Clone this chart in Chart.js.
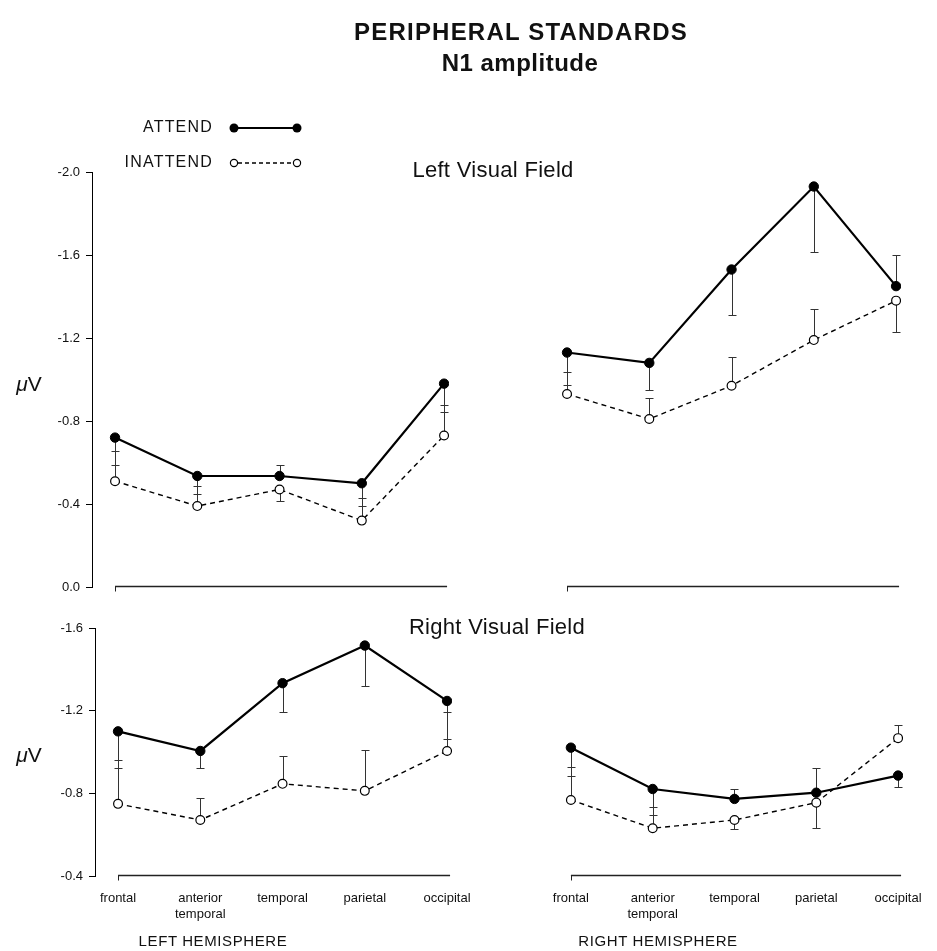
<!DOCTYPE html>
<html>
<head>
<meta charset="utf-8">
<script src="https://cdn.jsdelivr.net/npm/chart.js@4/dist/chart.umd.min.js"></script>
<style>
html,body{margin:0;padding:0;background:#fff;}
#wrap{position:relative;width:937px;height:951px;overflow:hidden;background:#fff;font-family:"Liberation Sans",Arial,Helvetica,sans-serif;color:#111;}
#wrap canvas{position:absolute;left:0;top:0;}
.t{position:absolute;white-space:nowrap;line-height:1;transform:translate(-50%,-50%);}
</style>
</head>
<body>
<div id="wrap">
  <canvas id="c1" width="937" height="951"></canvas>
  <canvas id="c2" width="937" height="951"></canvas>
  <canvas id="c3" width="937" height="951"></canvas>
  <canvas id="c4" width="937" height="951"></canvas>
  <div class="t" style="left:521px;top:32px;font-size:24px;font-weight:bold;letter-spacing:1.2px;">PERIPHERAL STANDARDS</div>
  <div class="t" style="left:520px;top:63px;font-size:24px;font-weight:bold;letter-spacing:0.5px;">N1 amplitude</div>
  <div class="t" style="left:493px;top:170px;font-size:22px;letter-spacing:0.3px;">Left Visual Field</div>
  <div class="t" style="left:497px;top:627px;font-size:22px;letter-spacing:0.3px;">Right Visual Field</div>
  <div class="t" style="left:29px;top:383px;font-size:21px;"><i>&mu;</i>V</div>
  <div class="t" style="left:29px;top:754px;font-size:21px;"><i>&mu;</i>V</div>
  <div class="t" style="left:213px;top:940px;font-size:15px;letter-spacing:0.6px;">LEFT HEMISPHERE</div>
  <div class="t" style="left:658px;top:940px;font-size:15px;letter-spacing:0.6px;">RIGHT HEMISPHERE</div>
</div>
<script>
// ---------- data ----------
const categories = ['frontal', ['anterior', 'temporal'], 'temporal', 'parietal', 'occipital'];
const seriesNames = ['ATTEND', 'INATTEND'];
const yTicksLVF = [-2.0, -1.6, -1.2, -0.8, -0.4, 0.0];
const yTicksRVF = [-1.6, -1.2, -0.8, -0.4];

// Left Visual Field - left hemisphere
const lvfLH_attend      = [-0.72, -0.535, -0.535, -0.50, -0.98];
const lvfLH_inattend    = [-0.51, -0.39, -0.47, -0.32, -0.73];
const lvfLH_attendErr   = [-0.59, -0.45, -0.59, -0.39, -0.845];
const lvfLH_inattendErr = [-0.655, -0.487, -0.414, -0.427, -0.877];
// Left Visual Field - right hemisphere
const lvfRH_attend      = [-1.13, -1.08, -1.53, -1.93, -1.45];
const lvfRH_inattend    = [-0.93, -0.81, -0.97, -1.19, -1.38];
const lvfRH_attendErr   = [-0.973, -0.949, -1.311, -1.616, -1.60];
const lvfRH_inattendErr = [-1.035, -0.909, -1.11, -1.338, -1.227];
// Right Visual Field - left hemisphere
const rvfLH_attend      = [-1.10, -1.005, -1.333, -1.515, -1.247];
const rvfLH_inattend    = [-0.749, -0.671, -0.846, -0.812, -1.005];
const rvfLH_attendErr   = [-0.924, -0.922, -1.193, -1.321, -1.062];
const rvfLH_inattendErr = [-0.962, -0.779, -0.981, -1.01, -1.194];
// Right Visual Field - right hemisphere
const rvfRH_attend      = [-1.021, -0.821, -0.773, -0.803, -0.886];
const rvfRH_inattend    = [-0.768, -0.631, -0.671, -0.755, -1.067];
const rvfRH_attendErr   = [-0.886, -0.695, -0.82, -0.922, -0.832];
const rvfRH_inattendErr = [-0.926, -0.732, -0.626, -0.631, -1.131];

// ---------- drawing ----------
const FONT = '"Liberation Sans", Arial, Helvetica, sans-serif';

const errorBars = {
  id: 'errorBars',
  beforeDatasetsDraw(chart) {
    const ctx = chart.ctx, xs = chart.scales.x, ys = chart.scales.y;
    ctx.save();
    ctx.strokeStyle = '#333';
    ctx.lineWidth = 1;
    chart.data.datasets.forEach(ds => {
      ds.data.forEach((p, i) => {
        const e = ds.errEnd[i];
        const x = Math.round(xs.getPixelForValue(p.x)) + 0.5;
        const y0 = ys.getPixelForValue(p.y);
        const y1 = Math.round(ys.getPixelForValue(e)) + 0.5;
        ctx.beginPath();
        ctx.moveTo(x, y0); ctx.lineTo(x, y1);
        ctx.moveTo(x - 4, y1); ctx.lineTo(x + 4, y1);
        ctx.stroke();
      });
    });
    ctx.restore();
  }
};

const xLine = {
  id: 'xLine',
  afterDraw(chart) {
    const ctx = chart.ctx, xs = chart.scales.x, a = chart.chartArea;
    const x0 = xs.getPixelForValue(0), x1 = xs.getPixelForValue(categories.length - 1);
    const y = Math.round(a.bottom) - 0.5;
    ctx.save();
    ctx.strokeStyle = '#222';
    ctx.lineWidth = 1.5;
    ctx.beginPath();
    ctx.moveTo(x0, y); ctx.lineTo(x1 + 3, y);
    ctx.stroke();
    ctx.lineWidth = 1;
    ctx.beginPath();
    ctx.moveTo(Math.round(x0) + 0.5, y); ctx.lineTo(Math.round(x0) + 0.5, y + 5);
    ctx.stroke();
    ctx.restore();
  }
};

const legendPlugin = {
  id: 'legendPlugin',
  afterDraw(chart) {
    const ctx = chart.ctx;
    const ds = chart.data.datasets;
    const rows = [128, 163];
    ctx.save();
    ctx.font = '16px ' + FONT;
    ctx.fillStyle = '#111';
    ctx.textAlign = 'right';
    ctx.textBaseline = 'middle';
    try { ctx.letterSpacing = '1.2px'; } catch (e) {}
    rows.forEach((y, k) => {
      ctx.fillText(ds[k].label, 213, y);
    });
    try { ctx.letterSpacing = '0px'; } catch (e) {}
    // ATTEND sample
    ctx.strokeStyle = '#000';
    ctx.lineWidth = 2;
    ctx.beginPath(); ctx.moveTo(234, rows[0]); ctx.lineTo(297, rows[0]); ctx.stroke();
    ctx.fillStyle = '#000';
    [234, 297].forEach(x => { ctx.beginPath(); ctx.arc(x, rows[0], 4.5, 0, Math.PI * 2); ctx.fill(); });
    // INATTEND sample
    ctx.lineWidth = 1.3;
    ctx.setLineDash([4, 3]);
    ctx.beginPath(); ctx.moveTo(238, rows[1]); ctx.lineTo(293, rows[1]); ctx.stroke();
    ctx.setLineDash([]);
    ctx.lineWidth = 1.2;
    ctx.fillStyle = '#fff';
    [234, 297].forEach(x => { ctx.beginPath(); ctx.arc(x, rows[1], 3.6, 0, Math.PI * 2); ctx.fill(); ctx.stroke(); });
    ctx.restore();
  }
};

function makePanel(id, o) {
  const mk = arr => arr.map((v, i) => ({ x: i, y: v }));
  const plugins = [errorBars, xLine];
  if (o.legend) plugins.push(legendPlugin);
  return new Chart(document.getElementById(id), {
    type: 'line',
    data: {
      datasets: [
        { label: seriesNames[0], data: mk(o.attend), errEnd: o.attendErr,
          borderColor: '#000', backgroundColor: '#000', borderWidth: 2.2, tension: 0,
          pointRadius: 4.7, pointBackgroundColor: '#000', pointBorderColor: '#000', pointBorderWidth: 1 },
        { label: seriesNames[1], data: mk(o.inattend), errEnd: o.inattendErr,
          borderColor: '#000', backgroundColor: '#fff', borderWidth: 1.4, borderDash: [5, 4], tension: 0,
          pointRadius: 4.4, pointBackgroundColor: '#fff', pointBorderColor: '#000', pointBorderWidth: 1.2 }
      ]
    },
    options: {
      responsive: false,
      animation: false,
      devicePixelRatio: 1,
      layout: { padding: o.padding },
      plugins: { legend: { display: false }, tooltip: { enabled: false }, title: { display: false } },
      scales: {
        x: {
          type: 'linear', min: -0.28, max: 4.06, display: o.showX,
          grid: { display: false, drawTicks: false },
          border: { display: false },
          afterBuildTicks: s => { s.ticks = categories.map((_, i) => ({ value: i })); },
          afterFit: s => { s.height = o.showX ? 50 : 0; },
          ticks: { autoSkip: false, maxRotation: 0, minRotation: 0, padding: 15, color: '#111',
                   font: { family: FONT, size: 13 }, callback: v => categories[v] }
        },
        y: {
          type: 'linear', reverse: true, display: o.showY,
          min: o.yTicks[0], max: o.yTicks[o.yTicks.length - 1],
          afterBuildTicks: s => { s.ticks = o.yTicks.map(v => ({ value: v })); },
          afterFit: s => { s.width = o.showY ? 70 : 0; },
          grid: { drawOnChartArea: false, drawTicks: true, tickLength: 6, color: '#000', lineWidth: 1 },
          border: { display: true, color: '#000', width: 1 },
          ticks: { padding: 6, color: '#111', font: { family: FONT, size: 13 }, callback: v => v.toFixed(1) }
        }
      }
    },
    plugins: plugins
  });
}

makePanel('c1', { attend: lvfLH_attend, inattend: lvfLH_inattend, attendErr: lvfLH_attendErr, inattendErr: lvfLH_inattendErr,
  yTicks: yTicksLVF, showX: false, showY: true, legend: true,
  padding: { left: 22, right: 488, top: 172, bottom: 364 } });
makePanel('c2', { attend: lvfRH_attend, inattend: lvfRH_inattend, attendErr: lvfRH_attendErr, inattendErr: lvfRH_inattendErr,
  yTicks: yTicksLVF, showX: false, showY: false,
  padding: { left: 544, right: 36, top: 172, bottom: 364 } });
makePanel('c3', { attend: rvfLH_attend, inattend: rvfLH_inattend, attendErr: rvfLH_attendErr, inattendErr: rvfLH_inattendErr,
  yTicks: yTicksRVF, showX: true, showY: true,
  padding: { left: 25, right: 485, top: 628, bottom: 25 } });
makePanel('c4', { attend: rvfRH_attend, inattend: rvfRH_inattend, attendErr: rvfRH_attendErr, inattendErr: rvfRH_inattendErr,
  yTicks: yTicksRVF, showX: true, showY: false,
  padding: { left: 548, right: 32, top: 628, bottom: 25 } });
</script>
</body>
</html>
